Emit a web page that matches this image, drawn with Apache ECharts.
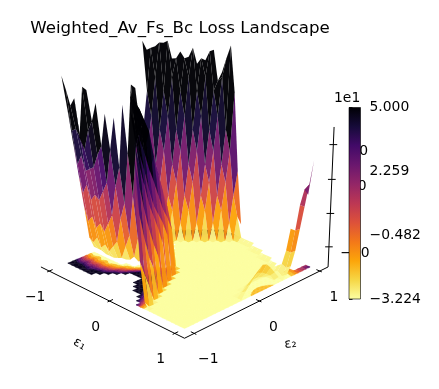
<!DOCTYPE html>
<html lang="en">
<head>
<meta charset="UTF-8">
<title>Weighted_Av_Fs_Bc Loss Landscape</title>
<style>
  html, body { margin: 0; padding: 0; background: #fff; }
  #chart { width: 439px; height: 389px; }
</style>
</head>
<body>
<div id="chart"></div>
<script src="https://cdn.jsdelivr.net/npm/echarts@6/dist/echarts.min.js"></script>
<script>
// loss values, one row per e1 step (-1 .. 1), columns are e2 (-1 .. 1)
const n = null;
const zRows = [
 [n,n,77,58,38,18,-2,-22,-29,n, n,n,n,n,n,n,n,n,n,n, 82,76,n,n,n,n,n,n,n,n,n],
 [n,n,70,46,26,8,-10,-24,-29,n, n,n,n,n,n,n,n,n,n,32, 54,78,78,n,n,n,n,n,n,n,n],
 [n,n,62,48,32,14,-6,-20,-29,n, n,n,n,n,n,n,n,n,2,20, 40,62,81,80,n,n,n,n,n,n,n],
 [n,n,67,44,24,6,-12,-25,-30,n, n,n,n,n,n,n,n,-32,-22,-6, 12,32,54,82,71,n,n,n,n,n,n],
 [n,n,46,38,26,10,-8,-22,-30,n, n,n,n,n,n,n,n,-32,-32,-14, 2,20,40,62,72,75,n,n,n,n,n],
 [n,n,75,50,28,8,-12,-25,-30,n, n,n,n,n,n,n,n,n,-32,-32, -22,-6,12,32,54,72,72,n,n,n,n],
 [n,n,74,56,36,14,-6,-21,-29,n, n,n,n,n,n,n,n,n,n,-32, -32,-14,2,20,40,62,78,68,n,n,n],
 [n,n,n,67,42,20,0,-17,-28,-30, n,n,n,n,n,n,n,n,n,n, -32,-32,-22,-6,12,32,54,72,70,n,n],
 [n,n,n,n,61,40,18,-2,-20,-29, n,n,n,n,n,n,n,n,n,-32, -32,-32,-32,-14,2,20,40,62,76,76,n],
 [n,n,n,n,n,59,30,8,-12,-26, -30,n,n,n,n,n,n,n,-32,-32, -32,-32,-32,-32,-22,-6,12,32,54,59,63],
 [n,n,n,n,n,n,66,38,12,-14, -28,-30,n,n,n,n,n,-32,-32,-32, -32,-32,-32,-32,-32,-14,2,20,40,62,72],
 [n,n,n,n,n,n,n,77,44,12, -16,-28,-30,n,n,n,-32,-32,-32,-32, -32,-32,-32,-32,-32,-32,-22,-6,12,32,80],
 [n,n,n,n,n,n,n,76,52,26, 2,-18,-29,n,n,-32,-32,-32,-32,-32, -32,-32,-32,-32,-32,-32,-32,-14,2,20,54],
 [n,n,n,n,n,77,66,54,42,28, 12,6,-6,-16,-32,-32,-32,-32,-32,-32, -32,-32,-32,-32,-32,-32,-32,-32,-22,-6,8],
 [n,n,n,n,76,72,67,60,53,38, 27,16,6,-8,-32,-32,-32,-32,-32,-32, -32,-32,-32,-32,-32,-32,-32,-32,-32,-18,-24],
 [n,n,n,70,62,52,44,34,26,17, 8,2,-6,-32,-32,-32,-32,-32,-32,-32, -32,-32,-32,-32,-32,-32,-32,-32,-32,-30,n],
 [n,n,n,56,46,36,24,14,8,2, -6,-32,-32,-32,-32,-32,-32,-32,-32,-32, -32,-32,-32,-32,-32,-32,-32,-32,-32,-30,n],
 [n,n,55,42,30,18,10,2,-8,-32, -32,-32,-32,-32,-32,-32,-32,-32,-32,-32, -32,-32,-32,-32,-32,-32,-32,-32,-32,-30,n],
 [n,48,32,18,6,-4,-12,-32,-32,-32, -32,-32,-32,-32,-32,-32,-32,-32,-32,-32, -32,-32,-32,-32,-32,-32,-32,-32,-32,-30,n],
 [36,18,4,-8,-16,-32,-32,-32,-32,-32, -32,-32,-32,-32,-32,-32,-32,-32,-32,-32, -32,-32,-32,-32,-32,-32,-32,-32,-30,n,n],
 [-6,-14,-22,-32,-32,-32,-32,-32,-32,-32, -32,-32,-32,-32,-32,-32,-32,-32,-32,-32, -32,-32,-32,-32,-32,-32,-32,-32,-30,n,n],
 [-28,-32,-32,-32,-32,-32,-32,-32,-32,-32, -32,-32,-32,-32,-32,-32,-32,-32,-32,-32, -32,-32,-32,-32,-32,-32,-32,-32,-30,n,n],
 [-32,-32,-32,-32,-32,-32,-32,-32,-32,-32, -32,-32,-32,-32,-32,-32,-32,-32,-32,-32, -32,-32,-32,-32,-32,-32,-32,-30,n,n,n],
 [-32,-32,-32,-32,-32,-32,-32,-32,-32,-32, -32,-32,-32,-32,-32,-32,-32,-32,-32,-32, -32,-32,-32,-32,-32,-32,-32,-30,n,n,n],
 [-32,-32,-32,-32,-32,-32,-32,-32,-32,-32, -32,-32,-32,-32,-32,-32,-32,-32,-32,-32, -32,-32,-32,-32,-32,-32,-32,-30,n,n,n],
 [-32,-32,-32,-32,-32,-32,-32,-32,-32,-32, -32,-32,-32,-32,-32,-32,-32,-32,-32,-32, -32,-32,-32,-32,-32,-32,-30,n,n,n,n],
 [-32,-32,-32,-32,-32,-32,-32,-32,-32,-32, -32,-32,-32,-32,-32,-32,-32,-32,-32,-32, -32,-32,-32,-32,-32,-32,-30,n,n,n,n],
 [-32,-32,-32,-32,-32,-32,-32,-32,-32,-32, -32,-32,-32,-32,-32,-32,-32,-32,-32,-32, -32,-32,-32,-32,-32,-29,n,n,n,n,n],
 [-32,-32,-32,-32,-32,-32,-32,-32,-32,-32, -32,-32,-32,-32,-32,-32,-30,-29,-28,-28, -29,-30,-32,-32,-30,-27,-20,-8,n,n,n],
 [-32,-32,-32,-32,-32,-32,-32,-32,-32,-32, -32,-32,-32,-32,-30,-28,-26,-24,-23,-24, -26,-28,-32,-32,-32,-28,-20,-8,6,14,10],
 [-32,-32,-32,-32,-32,-32,-32,-32,-32,-32, -32,-32,-32,-32,-28,-25,-22,-19,-17,-18, -21,-25,-29,-32,-30,-26,-18,-6,6,18,31]
];
const e1Ticks = [-1, 0, 1];
const e2Ticks = [-1, 0, 1];
const zTicks = [-20, 0, 20, 40];
const cbarTicks = [-3.224, -0.482, 2.259, 5.0];
const contourLevels = [-32.24, -24.02, -15.79, -7.57, 0.66, 8.88, 17.1, 25.33, 33.55, 41.78, 200];
const inferno = ['#000004', '#160b39', '#420a68', '#6a176e', '#932667', '#bc3754', '#dd513a', '#f37819', '#fca50a', '#f6d746', '#fcffa4'];

const zLo = -32.24, zHi = 50;
const gridN = zRows.length - 1;

// camera, fitted to the box corners of the picture
const boxHalf = 1.143, elevSin = 0.4147, elevCos = 0.91, zAspect = 0.742, camDist = 15, camScale = 103.6, cx = 184.5, cy = 198.4;
function project(e1, e2, z) {
  const xn = e1 / boxHalf, yn = e2 / boxHalf, zn = (z - zLo) / (zHi - zLo) * 2 - 1;
  const r = (xn + yn) / Math.SQRT2, f = (xn - yn) / Math.SQRT2;
  const v = zAspect * zn * elevCos - f * elevSin;
  const w = 1 - (f * elevCos + zAspect * zn * elevSin) / camDist;
  return [cx + camScale / w * r, cy - camScale / w * v, w];
}
function gridE(k) { return -1 + 2 * k / gridN; }

function hexRgb(h) { return [1, 3, 5].map(function (p) { return parseInt(h.substr(p, 2), 16); }); }
const infernoRgb = inferno.map(hexRgb);
// inferno reversed: yellow is low, black is high
function cmap(z) {
  let t = 1 - (z - zLo) / (zHi - zLo);
  t = Math.max(0, Math.min(1, t)) * (infernoRgb.length - 1);
  const a = Math.min(Math.floor(t), infernoRgb.length - 2), u = t - a;
  const c = infernoRgb[a].map(function (q, m) { return Math.round(q + (infernoRgb[a + 1][m] - q) * u); });
  return 'rgb(' + c.join(',') + ')';
}

// keep the part of a polygon on one side of a level
function clipLevel(poly, level, above) {
  const out = [];
  for (let m = 0; m < poly.length; m++) {
    const p = poly[m], q = poly[(m + 1) % poly.length];
    const pIn = above ? p[2] >= level : p[2] <= level;
    const qIn = above ? q[2] >= level : q[2] <= level;
    if (pIn) out.push(p);
    if (pIn !== qIn) {
      const u = (level - p[2]) / (q[2] - p[2]);
      out.push([p[0] + (q[0] - p[0]) * u, p[1] + (q[1] - p[1]) * u, level]);
    }
  }
  return out;
}

const floorPolys = [], faces = [];
for (let i = 0; i < gridN; i++) {
  for (let j = 0; j < gridN; j++) {
    const corners = [[i, j], [i + 1, j], [i + 1, j + 1], [i, j + 1]].map(function (c) {
      return [gridE(c[0]), gridE(c[1]), zRows[c[0]][c[1]]];
    });
    if (corners.some(function (c) { return c[2] == null; })) continue;
    const tris = [[corners[0], corners[1], corners[2]], [corners[0], corners[2], corners[3]]];
    for (let b = 0; b < contourLevels.length - 1; b++) {
      let mid = (contourLevels[b] + contourLevels[b + 1]) / 2;
      if (b === 0) mid = zLo;
      if (b === contourLevels.length - 2) mid = 46;
      tris.forEach(function (tri) {
        const part = clipLevel(clipLevel(tri, contourLevels[b], true), contourLevels[b + 1], false);
        if (part.length > 2) floorPolys.push({ pts: part.map(function (p) { return project(p[0], p[1], zLo); }), color: cmap(mid) });
      });
    }
    const pts = corners.map(function (c) { return project(c[0], c[1], c[2]); });
    const zs = corners.map(function (c) { return c[2]; });
    const zMean = (zs[0] + zs[1] + zs[2] + zs[3]) / 4;
    const zRange = Math.max.apply(null, zs) - Math.min.apply(null, zs);
    // steep faces read darker in the picture
    const shade = zRange > 12 ? zMean + 0.15 * zRange : zMean;
    faces.push({ pts: pts, color: cmap(shade), depth: (pts[0][2] + pts[1][2] + pts[2][2] + pts[3][2]) / 4 });
  }
}
faces.sort(function (a, b) { return b.depth - a.depth; });

function toPixels(api, pts) { return pts.map(function (p) { return api.coord([p[0], p[1]]); }); }

function renderFloor(params, api) {
  const poly = floorPolys[params.dataIndex];
  return { type: 'polygon', shape: { points: toPixels(api, poly.pts) }, style: { fill: poly.color, stroke: poly.color, lineWidth: 0.4 } };
}

function renderFace(params, api) {
  const face = faces[params.dataIndex];
  return { type: 'polygon', shape: { points: toPixels(api, face.pts) }, style: { fill: face.color, opacity: 0.97 } };
}

function axisLine(api, a, b) {
  const p = api.coord(a), q = api.coord(b);
  return { type: 'line', shape: { x1: p[0], y1: p[1], x2: q[0], y2: q[1] }, style: { stroke: '#000', lineWidth: 1 } };
}

// the three box edges with their ticks
function renderAxes(params, api) {
  const front = project(boxHalf, -boxHalf, zLo), left = project(-boxHalf, -boxHalf, zLo);
  const right = project(boxHalf, boxHalf, zLo), top = project(boxHalf, boxHalf, zHi);
  const kids = [axisLine(api, left, front), axisLine(api, front, right), axisLine(api, right, top)];
  e1Ticks.forEach(function (v) { kids.push(axisLine(api, project(v, -boxHalf - 0.03, zLo), project(v, -boxHalf + 0.05, zLo))); });
  e2Ticks.forEach(function (v) { kids.push(axisLine(api, project(boxHalf + 0.03, v, zLo), project(boxHalf - 0.05, v, zLo))); });
  zTicks.forEach(function (v) { kids.push(axisLine(api, project(boxHalf - 0.03, boxHalf - 0.03, v), project(boxHalf + 0.03, boxHalf + 0.03, v))); });
  return { type: 'group', children: kids };
}

const labelFont = '13.9px "DejaVu Sans"';
function label(api, at, dx, dy, text, font, rotation) {
  const p = api.coord(at);
  return { type: 'text', x: p[0] + dx, y: p[1] + dy, rotation: rotation || 0,
    style: { x: 0, y: 0, text: text, font: font || labelFont, fill: '#000', align: 'center', verticalAlign: 'middle' } };
}
function tickText(v) { return String(v).replace('-', '\u2212'); }

function renderAxisLabels(params, api) {
  const kids = [];
  e1Ticks.forEach(function (v) { kids.push(label(api, project(v, -boxHalf, zLo), -14, 26, tickText(v))); });
  e2Ticks.forEach(function (v) { kids.push(label(api, project(boxHalf, v, zLo), 14, 26, tickText(v))); });
  kids.push(label(api, project(0, -boxHalf, zLo), -30, 43, '\u03b5\u2081', '13px "DejaVu Sans"', -0.5));
  kids.push(label(api, project(boxHalf, 0, zLo), 31, 43, '\u03b5\u2082', '13px "DejaVu Sans"', 0.1));
  return { type: 'group', children: kids };
}

function renderZLabels(params, api) {
  return { type: 'group', children: zTicks.map(function (v) {
    return label(api, project(boxHalf, boxHalf, v), 26, 7, tickText(v));
  }) };
}

// colour bar body, drawn on its own value axis
function renderCbar(params, api) {
  const a = api.coord([0, zHi]), b = api.coord([1, zLo]);
  const stops = inferno.map(function (c, m) { return { offset: m / (inferno.length - 1), color: c }; });
  return { type: 'rect', shape: { x: a[0], y: a[1], width: b[0] - a[0], height: b[1] - a[1] },
    style: { fill: new echarts.graphic.LinearGradient(0, 0, 0, 1, stops), stroke: '#000', lineWidth: 0.6 } };
}

const myChart = echarts.init(document.getElementById('chart'));
myChart.setOption({
  animation: false,
  backgroundColor: '#fff',
  title: {
    text: 'Weighted_Av_Fs_Bc Loss Landscape',
    left: 175, top: 15, textAlign: 'center',
    textStyle: { fontFamily: 'DejaVu Sans', fontSize: 16.67, fontWeight: 'normal', color: '#000' }
  },
  grid: [
    { left: 0, top: 0, width: 439, height: 389 },
    { left: 349, top: 107.5, width: 11.5, height: 191.5 }
  ],
  xAxis: [
    { type: 'value', gridIndex: 0, min: 0, max: 439, show: false },
    { type: 'value', gridIndex: 1, min: 0, max: 1, show: false }
  ],
  yAxis: [
    { type: 'value', gridIndex: 0, min: 0, max: 389, inverse: true, show: false },
    {
      type: 'value', gridIndex: 1, min: zLo, max: zHi, position: 'right',
      axisLine: { show: false },
      splitLine: { show: false },
      axisTick: { length: 3.5, customValues: cbarTicks.map(function (v) { return v * 10; }), lineStyle: { color: '#000', width: 0.8 } },
      axisLabel: {
        customValues: cbarTicks.map(function (v) { return v * 10; }),
        margin: 9, fontFamily: 'DejaVu Sans', fontSize: 13.9, color: '#000',
        formatter: function (v) { return (v / 10).toFixed(3).replace('-', '\u2212'); }
      }
    }
  ],
  graphic: [
    { type: 'text', left: 334, top: 91, z: 10, style: { text: '1e1', font: labelFont, fill: '#000' } }
  ],
  series: [
    { type: 'custom', xAxisIndex: 0, yAxisIndex: 0, z: 1, silent: true, clip: false, renderItem: renderZLabels, data: [0] },
    { type: 'custom', xAxisIndex: 0, yAxisIndex: 0, z: 2, silent: true, clip: false, renderItem: renderFloor, data: floorPolys.map(function (p, m) { return m; }), progressive: 0 },
    { type: 'custom', xAxisIndex: 0, yAxisIndex: 0, z: 3, silent: true, clip: false, renderItem: renderAxes, data: [0] },
    { type: 'custom', xAxisIndex: 0, yAxisIndex: 0, z: 4, silent: true, clip: false, renderItem: renderFace, data: faces.map(function (p, m) { return m; }), progressive: 0 },
    { type: 'custom', xAxisIndex: 0, yAxisIndex: 0, z: 5, silent: true, clip: false, renderItem: renderAxisLabels, data: [0] },
    { type: 'custom', xAxisIndex: 1, yAxisIndex: 1, z: 6, silent: true, renderItem: renderCbar, data: [0] }
  ]
});
</script>
</body>
</html>
